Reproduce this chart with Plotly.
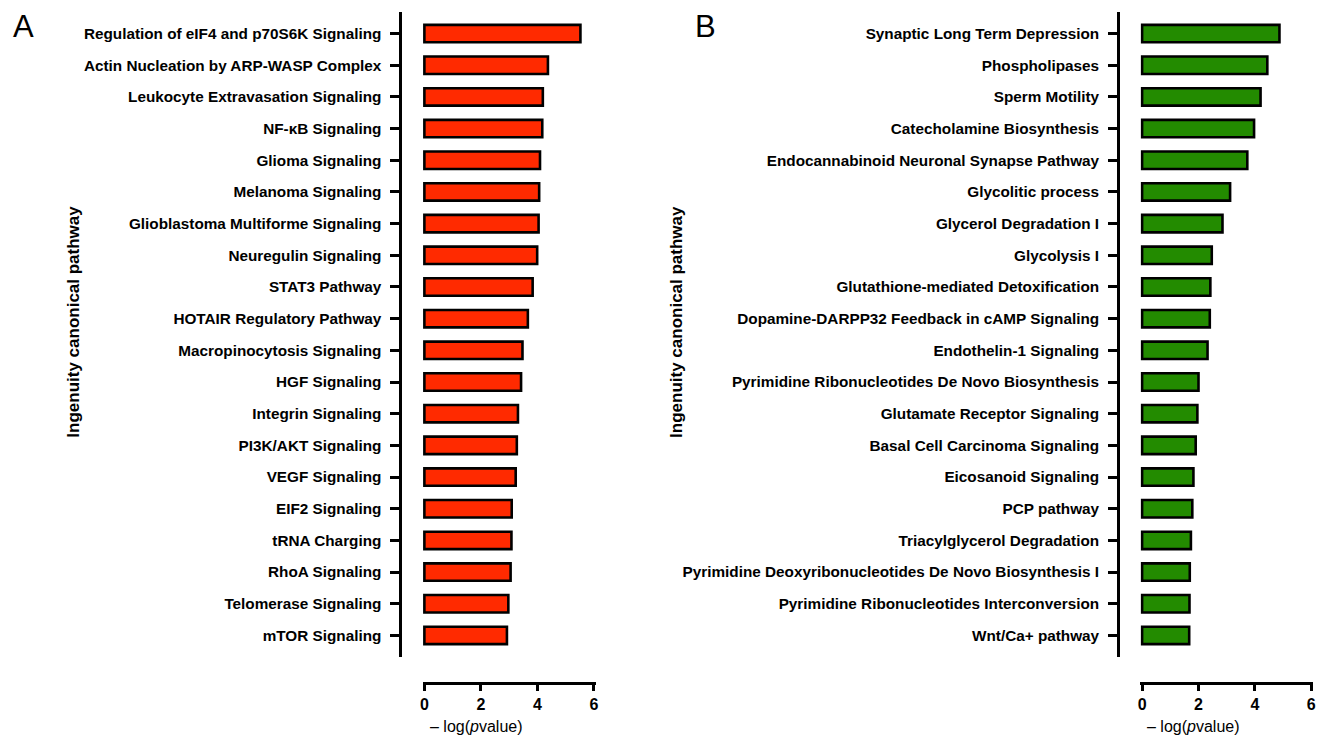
import plotly.graph_objects as go

W, H = 1320, 735

# ---------------- data ----------------
pathways_a = [
    "Regulation of eIF4 and p70S6K Signaling",
    "Actin Nucleation by ARP-WASP Complex",
    "Leukocyte Extravasation Signaling",
    "NF-κB Signaling",
    "Glioma Signaling",
    "Melanoma Signaling",
    "Glioblastoma Multiforme Signaling",
    "Neuregulin Signaling",
    "STAT3 Pathway",
    "HOTAIR Regulatory Pathway",
    "Macropinocytosis Signaling",
    "HGF Signaling",
    "Integrin Signaling",
    "PI3K/AKT Signaling",
    "VEGF Signaling",
    "EIF2 Signaling",
    "tRNA Charging",
    "RhoA Signaling",
    "Telomerase Signaling",
    "mTOR Signaling",
]
values_a = [5.52, 4.37, 4.19, 4.17, 4.09, 4.06, 4.04, 3.99, 3.83, 3.66,
            3.47, 3.42, 3.31, 3.27, 3.23, 3.09, 3.08, 3.05, 2.97, 2.92]

pathways_b = [
    "Synaptic Long Term Depression",
    "Phospholipases",
    "Sperm Motility",
    "Catecholamine Biosynthesis",
    "Endocannabinoid Neuronal Synapse Pathway",
    "Glycolitic process",
    "Glycerol Degradation I",
    "Glycolysis I",
    "Glutathione-mediated Detoxification",
    "Dopamine-DARPP32 Feedback in cAMP Signaling",
    "Endothelin-1 Signaling",
    "Pyrimidine Ribonucleotides De Novo Biosynthesis",
    "Glutamate Receptor Signaling",
    "Basal Cell Carcinoma Signaling",
    "Eicosanoid Signaling",
    "PCP pathway",
    "Triacylglycerol Degradation",
    "Pyrimidine Deoxyribonucleotides De Novo Biosynthesis I",
    "Pyrimidine Ribonucleotides Interconversion",
    "Wnt/Ca+ pathway",
]
values_b = [4.87, 4.44, 4.20, 3.97, 3.73, 3.12, 2.85, 2.47, 2.42, 2.40,
            2.32, 2.00, 1.96, 1.90, 1.82, 1.78, 1.73, 1.69, 1.68, 1.67]

x_ticks = [0, 2, 4, 6]
panel_labels = ["A", "B"]
y_title = "Ingenuity canonical pathway"
x_title = "– log(<i>p</i>value)"

# ---------------- helpers ----------------
def px_x(p):
    return p / W

def px_y(p):
    return 1 - p / H

FONT = "Liberation Sans, Arial, sans-serif"
RED = "#FF2A00"
GREEN = "#238B00"

fig = go.Figure()

panels = [
    dict(cats=pathways_a, vals=values_a, color=RED, xa="x", ya="y",
         x0=423.3, x6=593.7, yline=399, letter_x=21, title_x=476, ytitle_x=70),
    dict(cats=pathways_b, vals=values_b, color=GREEN, xa="x2", ya="y2",
         x0=1144.3, x6=1314.3, yline=1120, letter_x=706, title_x=1196, ytitle_x=676),
]

n = len(pathways_a)
ext = 0.68
for i, p in enumerate(panels):
    fig.add_trace(go.Bar(
        x=p["vals"], y=p["cats"], orientation="h",
        marker=dict(color=p["color"], line=dict(color="black", width=2.6)),
        width=0.55, xaxis=p["xa"], yaxis=p["ya"], showlegend=False,
        hoverinfo="x+y",
    ))
    unit = (p["x6"] - p["x0"]) / 6.0
    pad = 0.06
    dom = [px_x(p["x0"] - pad * unit), px_x(p["x6"] + pad * unit)]
    sfx = "" if i == 0 else "2"
    fig.layout["xaxis" + sfx] = dict(
        domain=dom, range=[-pad, 6 + pad], anchor="free", position=px_y(682.5),
        tickvals=x_ticks, ticks="outside", ticklen=7, tickwidth=2.5,
        tickcolor="black", showline=True, linecolor="black", linewidth=2.5,
        showgrid=False, zeroline=False,
        tickfont=dict(family=FONT, size=16, color="black", weight="bold"),
    )
    fig.layout["yaxis" + sfx] = dict(
        domain=[px_y(657), px_y(12)], anchor="free", position=px_x(p["yline"]),
        type="category", categoryorder="array", categoryarray=p["cats"],
        range=[n - 1 + ext, -ext], ticks="outside", ticklen=9, tickwidth=2.5,
        tickcolor="black", showline=True, linecolor="black", linewidth=2.5,
        showgrid=False, zeroline=False, ticklabelstandoff=6,
        tickfont=dict(family=FONT, size=15.3, color="black", weight="bold"),
    )
    # panel letter
    fig.add_annotation(text=panel_labels[i], x=px_x(p["letter_x"]), y=px_y(27),
                       xref="paper", yref="paper", showarrow=False,
                       xanchor="center", yanchor="middle",
                       font=dict(family=FONT, size=31, color="black"))
    # x title
    fig.add_annotation(text=x_title, x=px_x(p["title_x"]), y=px_y(726),
                       xref="paper", yref="paper", showarrow=False,
                       xanchor="center", yanchor="middle",
                       font=dict(family=FONT, size=16, color="black"))
    # y title
    fig.add_annotation(text=y_title, x=px_x(p["ytitle_x"]), y=px_y(322),
                       xref="paper", yref="paper", showarrow=False, textangle=-90,
                       xanchor="center", yanchor="middle",
                       font=dict(family=FONT, size=17, color="black", weight="bold"))

fig.update_layout(
    width=W, height=H, margin=dict(l=0, r=0, t=0, b=0),
    paper_bgcolor="white", plot_bgcolor="white", bargap=0.45,
)

fig.write_html("out.html", config={"displayModeBar": False},
               post_script="document.body.style.margin='0';document.body.style.overflow='hidden';")
